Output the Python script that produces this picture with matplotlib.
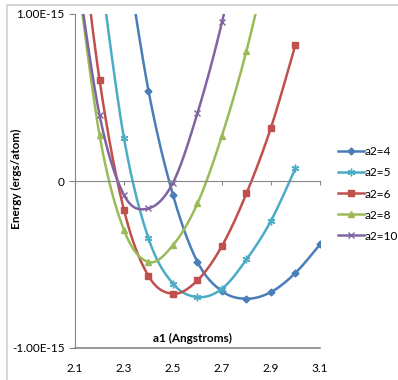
import numpy as np
import matplotlib
matplotlib.use("Agg")
from matplotlib import pyplot as plt
from matplotlib.patches import Rectangle
from matplotlib.ticker import FuncFormatter

plt.rcParams['font.family'] = ['Lato', 'DejaVu Sans']

# energies in units of 1e-15 ergs/atom
a2_4_x = [2.3, 2.4, 2.5, 2.6, 2.7, 2.8, 2.9, 3.0, 3.1]
a2_4_y = [1.45, 0.54, -0.084, -0.485, -0.66, -0.705, -0.665, -0.55, -0.38]
a2_5_x = [2.2, 2.3, 2.4, 2.5, 2.6, 2.7, 2.8, 2.9, 3.0]
a2_5_y = [1.3, 0.256, -0.344, -0.615, -0.695, -0.645, -0.47, -0.238, 0.076]
a2_6_x = [2.1, 2.2, 2.3, 2.4, 2.5, 2.6, 2.7, 2.8, 2.9, 3.0]
a2_6_y = [1.8, 0.607, -0.174, -0.569, -0.675, -0.595, -0.389, -0.074, 0.32, 0.817]
a2_8_x = [2.1, 2.2, 2.3, 2.4, 2.5, 2.6, 2.7, 2.8, 2.9]
a2_8_y = [1.35, 0.276, -0.294, -0.485, -0.384, -0.134, 0.272, 0.78, 1.4]
a2_10_x = [2.1, 2.2, 2.3, 2.4, 2.5, 2.6, 2.7, 2.8]
a2_10_y = [1.35, 0.396, -0.084, -0.164, -0.01, 0.407, 0.951, 1.63]

labels = ["a2=4", "a2=5", "a2=6", "a2=8", "a2=10"]
xs = [a2_4_x, a2_5_x, a2_6_x, a2_8_x, a2_10_x]
ys = [a2_4_y, a2_5_y, a2_6_y, a2_8_y, a2_10_y]
colors = ["#4A7EBB", "#4BACC6", "#C0504D", "#9BBB59", "#8064A2"]
markers = ["D", (6, 2, 0), "s", "^", "x"]
msizes = [3.5, 5.5, 4.5, 4.5, 5]

def smooth(x, y, n=30):
    # excel-like smoothed line (catmull-rom bezier)
    p = np.column_stack([x, y])
    out = []
    for i in range(len(p) - 1):
        p0 = p[i - 1] if i > 0 else p[i]
        p1 = p[i]
        p2 = p[i + 1]
        p3 = p[i + 2] if i + 2 < len(p) else p[i + 1]
        c1 = p1 + (p2 - p0) / 6
        c2 = p2 - (p3 - p1) / 6
        t = np.linspace(0, 1, n)[:, None]
        seg = (1-t)**3*p1 + 3*(1-t)**2*t*c1 + 3*(1-t)*t**2*c2 + t**3*p2
        out.append(seg if i == 0 else seg[1:])
    out = np.vstack(out)
    return out[:, 0], out[:, 1]

fig = plt.figure(figsize=(3.98, 3.8), dpi=100)
fig.patches.append(Rectangle((7/398, -0.1), 1.2, 1 - 5/380 + 0.1, transform=fig.transFigure,
                             fill=False, edgecolor="#d0d0d0", linewidth=1.2))
ax = fig.add_axes([75/398, 1 - 348/380, 245/398, 334/380])

for x, y, lab, c, m, ms in zip(xs, ys, labels, colors, markers, msizes):
    sx, sy = smooth(np.array(x), np.array(y) * 1e-15)
    ax.plot(sx, sy, color=c, lw=1.8)
    ax.plot(x, np.array(y) * 1e-15, ls="none", marker=m, color=c, ms=ms, mew=1.0)
    ax.plot([], [], color=c, lw=1.8, marker=m, ms=ms, mew=1.0, label=lab)

ax.set_xlim(2.1, 3.1)
ax.set_ylim(-1e-15, 1e-15)
ax.set_xticks(np.arange(2.1, 3.11, 0.2))
ax.set_yticks([-1e-15, 0, 1e-15])
ax.xaxis.set_major_formatter(FuncFormatter(lambda v, p: f"{v:.1f}"))
ax.yaxis.set_major_formatter(FuncFormatter(lambda v, p: "0" if v == 0 else f"{v:.2E}"))

for s in ["top", "right"]:
    ax.spines[s].set_visible(False)
ax.spines["left"].set_color("#868686")
ax.spines["bottom"].set_color("#868686")
ax.spines["bottom"].set_position(("data", 0))
ax.axhline(-1e-15, color="#868686", lw=1.2, clip_on=False)
ax.tick_params(axis="x", direction="out", length=3, color="#868686", pad=128, labelsize=8.5)
ax.tick_params(axis="y", direction="out", length=4, color="#868686", labelsize=8.5)

ax.text(0.48, 0.028, "a1 (Angstroms)", transform=ax.transAxes, ha="center", va="center",
        fontsize=8.5, fontweight="bold")
fig.text(16/398, 1 - 179/380, "Energy (ergs/atom)", rotation=90, ha="center", va="center",
         fontsize=8.5, fontweight="bold")

fig.legend(loc="center left", bbox_to_anchor=(333/398, 1 - 194/380), frameon=False,
           fontsize=8.5, handlelength=2.2, handletextpad=0.1, labelspacing=0.85,
           borderaxespad=0)

fig.savefig("out.png", dpi=100)
